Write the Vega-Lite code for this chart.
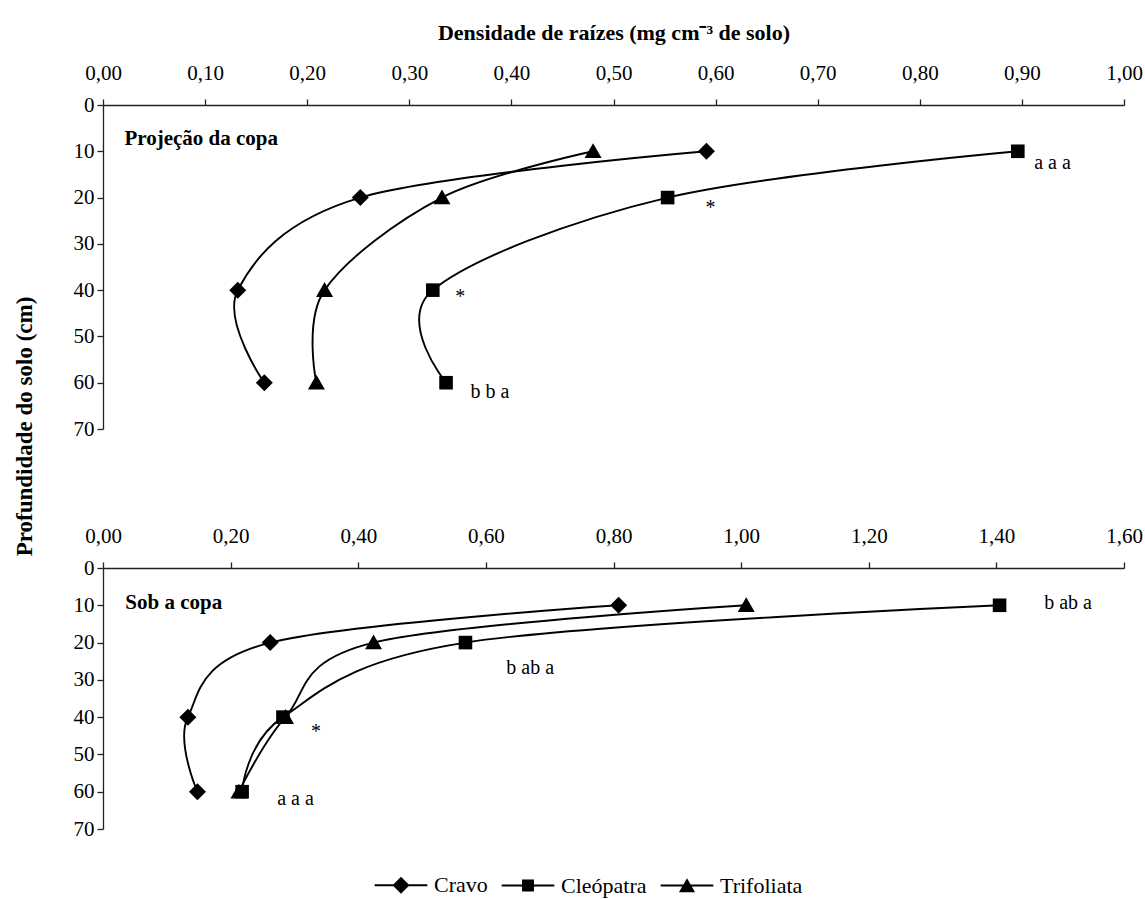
{
  "$schema": "https://vega.github.io/schema/vega-lite/v6.json",
  "background": "white",
  "padding": {"left": 13, "top": 21, "right": 10, "bottom": 5},
  "config": {
    "font": "Liberation Serif",
    "view": {"stroke": null},
    "axis": {
      "labelFont": "Liberation Serif",
      "labelFontSize": 21,
      "labelColor": "black",
      "domainColor": "#222",
      "tickColor": "#222",
      "domainWidth": 1.3,
      "tickWidth": 1.3,
      "tickSize": 6,
      "grid": false,
      "labelFlush": false,
      "labelOverlap": false
    },
    "legend": {
      "labelFont": "Liberation Serif"
    }
  },
  "datasets": {
    "proj": [
      {"serie": "Cravo", "prof": 10, "dens": 0.591},
      {"serie": "Cravo", "prof": 20, "dens": 0.252},
      {"serie": "Cravo", "prof": 40, "dens": 0.132},
      {"serie": "Cravo", "prof": 60, "dens": 0.158},
      {"serie": "Cleópatra", "prof": 10, "dens": 0.896},
      {"serie": "Cleópatra", "prof": 20, "dens": 0.553},
      {"serie": "Cleópatra", "prof": 40, "dens": 0.323},
      {"serie": "Cleópatra", "prof": 60, "dens": 0.336},
      {"serie": "Trifoliata", "prof": 10, "dens": 0.48},
      {"serie": "Trifoliata", "prof": 20, "dens": 0.332},
      {"serie": "Trifoliata", "prof": 40, "dens": 0.217},
      {"serie": "Trifoliata", "prof": 60, "dens": 0.209}
    ],
    "sob": [
      {"serie": "Cravo", "prof": 10, "dens": 0.808},
      {"serie": "Cravo", "prof": 20, "dens": 0.262},
      {"serie": "Cravo", "prof": 40, "dens": 0.133},
      {"serie": "Cravo", "prof": 60, "dens": 0.148},
      {"serie": "Cleópatra", "prof": 10, "dens": 1.405},
      {"serie": "Cleópatra", "prof": 20, "dens": 0.568},
      {"serie": "Cleópatra", "prof": 40, "dens": 0.282},
      {"serie": "Cleópatra", "prof": 60, "dens": 0.218},
      {"serie": "Trifoliata", "prof": 10, "dens": 1.008},
      {"serie": "Trifoliata", "prof": 20, "dens": 0.424},
      {"serie": "Trifoliata", "prof": 40, "dens": 0.286},
      {"serie": "Trifoliata", "prof": 60, "dens": 0.213}
    ],
    "notas_proj": [
      {"dens": 0.912, "prof": 12.5, "label": "a a a"},
      {"dens": 0.59, "prof": 22.3, "label": "*"},
      {"dens": 0.345, "prof": 41.5, "label": "*"},
      {"dens": 0.36, "prof": 62, "label": "b b a"}
    ],
    "notas_sob": [
      {"dens": 1.475, "prof": 9.4, "label": "b ab a"},
      {"dens": 0.632, "prof": 26.8, "label": "b ab a"},
      {"dens": 0.326, "prof": 44, "label": "*"},
      {"dens": 0.273, "prof": 62, "label": "a a a"}
    ],
    "painel_proj": [{"dens": 0.021, "prof": 7.4, "label": "Projeção da copa"}],
    "painel_sob": [{"dens": 0.035, "prof": 9.4, "label": "Sob a copa"}]
  },
  "bounds": "flush",
  "spacing": 139,
  "resolve": {"scale": {"x": "independent", "y": "independent", "shape": "independent"}, "legend": {"shape": "independent"}},
  "vconcat": [
    {
      "width": 1021,
      "height": 324,
      "encoding": {
        "x": {
          "field": "dens", "type": "quantitative",
          "scale": {"domain": [0, 1], "nice": false, "zero": true},
          "axis": {
            "orient": "top",
            "values": [0, 0.1, 0.2, 0.3, 0.4, 0.5, 0.6, 0.7, 0.8, 0.9, 1.0],
            "labelExpr": "replace(format(datum.value, '.2f'), '.', ',')",
            "labelPadding": 16,
            "title": "Densidade de raízes (mg cm⁻³ de solo)",
            "titleFont": "Liberation Serif",
            "titleFontSize": 22,
            "titleFontWeight": "bold",
            "titleColor": "black",
            "titlePadding": 18
          }
        },
        "y": {
          "field": "prof", "type": "quantitative",
          "scale": {"domain": [0, 70], "reverse": true, "nice": false},
          "axis": {
            "values": [0, 10, 20, 30, 40, 50, 60, 70],
            "labelPadding": 3,
            "title": "Profundidade do solo (cm)",
            "titleFont": "Liberation Serif",
            "titleFontSize": 23,
            "titleFontWeight": "bold",
            "titleColor": "black",
            "titleAngle": 270,
            "titleX": -79,
            "titleY": 321,
            "titleAlign": "center",
            "titleBaseline": "middle"
          }
        }
      },
      "layer": [
        {
          "data": {"name": "proj"},
          "mark": {"type": "line", "interpolate": "cardinal", "color": "black", "strokeWidth": 1.9},
          "encoding": {
            "detail": {"field": "serie", "type": "nominal"},
            "order": {"field": "prof", "type": "quantitative"}
          }
        },
        {
          "data": {"name": "proj"},
          "mark": {"type": "point", "filled": true, "color": "black", "opacity": 1, "size": 289},
          "encoding": {
            "shape": {
              "field": "serie", "type": "nominal",
              "scale": {"domain": ["Cravo", "Cleópatra", "Trifoliata"], "range": ["M0,-1L1,0L0,1L-1,0Z", "M-0.8,-0.8L0.8,-0.8L0.8,0.8L-0.8,0.8Z", "M0,-0.95L1,0.8L-1,0.8Z"]},
              "legend": null
            }
          }
        },
        {
          "data": {"name": "notas_proj"},
          "mark": {"type": "text", "align": "left", "baseline": "middle", "font": "Liberation Serif", "fontSize": 20, "color": "black"},
          "encoding": {"text": {"field": "label"}}
        },
        {
          "data": {"name": "painel_proj"},
          "mark": {"type": "text", "align": "left", "baseline": "middle", "font": "Liberation Serif", "fontSize": 21, "fontWeight": "bold", "color": "black"},
          "encoding": {"text": {"field": "label"}}
        }
      ]
    },
    {
      "width": 1021,
      "height": 261,
      "resolve": {"scale": {"shape": "independent"}, "legend": {"shape": "independent"}},
      "encoding": {
        "x": {
          "field": "dens", "type": "quantitative",
          "scale": {"domain": [0, 1.6], "nice": false, "zero": true},
          "axis": {
            "orient": "top",
            "values": [0, 0.2, 0.4, 0.6, 0.8, 1.0, 1.2, 1.4, 1.6],
            "labelExpr": "replace(format(datum.value, '.2f'), '.', ',')",
            "labelPadding": 16,
            "title": null
          }
        },
        "y": {
          "field": "prof", "type": "quantitative",
          "scale": {"domain": [0, 70], "reverse": true, "nice": false},
          "axis": {
            "values": [0, 10, 20, 30, 40, 50, 60, 70],
            "labelPadding": 3,
            "title": null
          }
        }
      },
      "layer": [
        {
          "data": {"name": "sob"},
          "mark": {"type": "line", "interpolate": "cardinal", "color": "black", "strokeWidth": 1.9},
          "encoding": {
            "detail": {"field": "serie", "type": "nominal"},
            "order": {"field": "prof", "type": "quantitative"}
          }
        },
        {
          "data": {"name": "sob"},
          "mark": {"type": "point", "filled": true, "color": "black", "opacity": 1, "size": 289},
          "encoding": {
            "shape": {
              "field": "serie", "type": "nominal",
              "scale": {"domain": ["Cravo", "Cleópatra", "Trifoliata"], "range": ["M0,-1L1,0L0,1L-1,0Z", "M-0.8,-0.8L0.8,-0.8L0.8,0.8L-0.8,0.8Z", "M0,-0.95L1,0.8L-1,0.8Z"]},
              "legend": null
            }
          }
        },
        {
          "data": {"name": "sob"},
          "transform": [{"filter": "false"}],
          "mark": {"type": "point", "filled": true, "color": "black", "opacity": 1, "size": 289},
          "encoding": {
            "shape": {
              "field": "serie", "type": "nominal",
              "scale": {"domain": ["Cravo", "Cleópatra", "Trifoliata"], "range": ["M-3.1,-0.11L3.1,-0.11L3.1,0.11L-3.1,0.11ZM0,-1L1,0L0,1L-1,0Z", "M-3.1,-0.11L3.1,-0.11L3.1,0.11L-3.1,0.11ZM-0.7,-0.7L0.7,-0.7L0.7,0.7L-0.7,0.7Z", "M-3.1,-0.11L3.1,-0.11L3.1,0.11L-3.1,0.11ZM0,-0.85L0.95,0.8L-0.95,0.8Z"]},
              "legend": {
                "title": null,
                "orient": "none",
                "legendX": 287,
                "legendY": 306,
                "direction": "horizontal",
                "labelFont": "Liberation Serif",
                "labelFontSize": 22,
                "labelColor": "black",
                "symbolSize": 289,
                "symbolFillColor": "black",
                "symbolOpacity": 1,
                "labelOffset": 22,
                "columnPadding": 10
              }
            }
          }
        },
        {
          "data": {"name": "notas_sob"},
          "mark": {"type": "text", "align": "left", "baseline": "middle", "font": "Liberation Serif", "fontSize": 20, "color": "black"},
          "encoding": {"text": {"field": "label"}}
        },
        {
          "data": {"name": "painel_sob"},
          "mark": {"type": "text", "align": "left", "baseline": "middle", "font": "Liberation Serif", "fontSize": 21, "fontWeight": "bold", "color": "black"},
          "encoding": {"text": {"field": "label"}}
        }
      ]
    }
  ]
}
